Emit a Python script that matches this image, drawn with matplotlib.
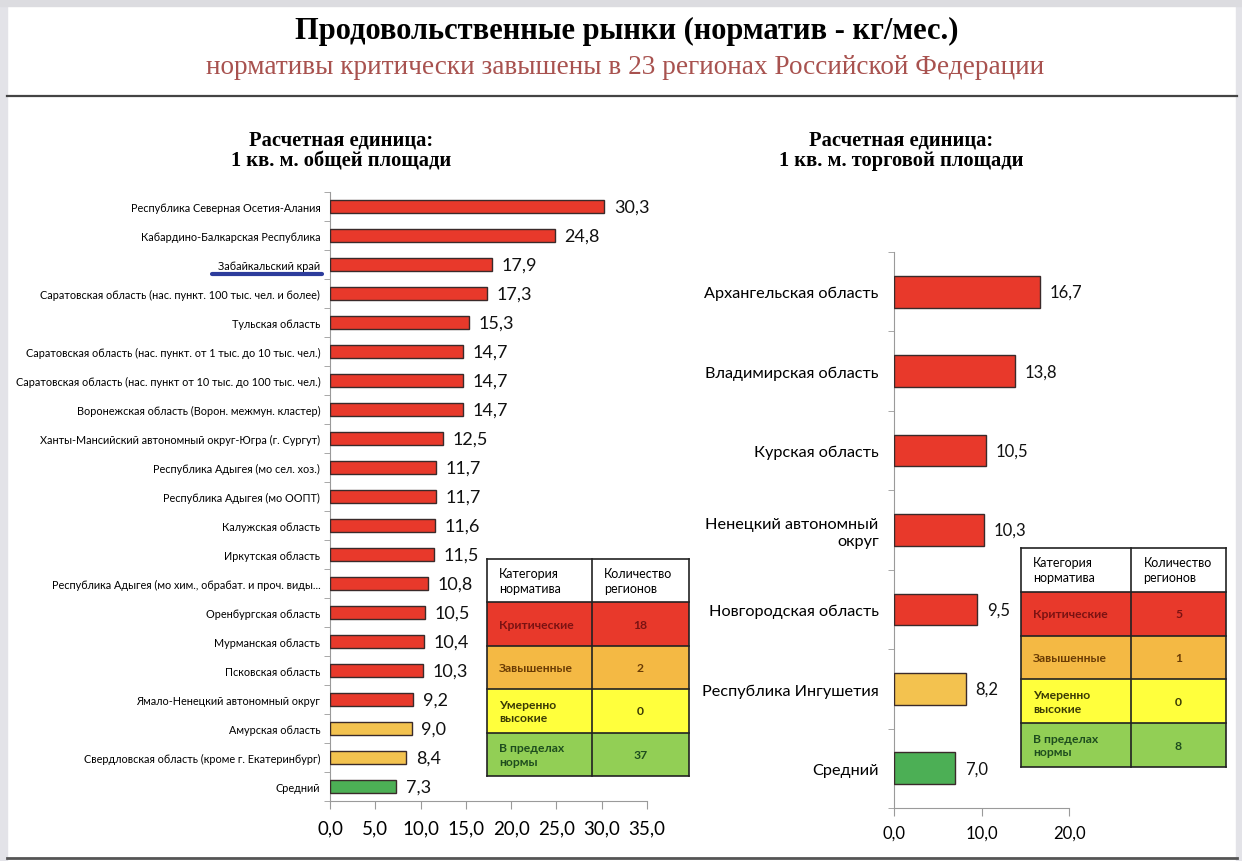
import matplotlib
matplotlib.use("Agg")
import matplotlib.pyplot as plt
from matplotlib.patches import Rectangle
from matplotlib.lines import Line2D

# --- data ---
left_regions = [
    "Республика Северная Осетия-Алания",
    "Кабардино-Балкарская Республика",
    "Забайкальский край",
    "Саратовская область (нас. пункт. 100 тыс. чел. и более)",
    "Тульская область",
    "Саратовская область (нас. пункт. от 1 тыс. до 10 тыс. чел.)",
    "Саратовская область (нас. пункт от 10 тыс. до 100 тыс. чел.)",
    "Воронежская область (Ворон. межмун. кластер)",
    "Ханты-Мансийский автономный округ-Югра (г. Сургут)",
    "Республика Адыгея (мо сел. хоз.)",
    "Республика Адыгея (мо ООПТ)",
    "Калужская область",
    "Иркутская область",
    "Республика Адыгея (мо хим., обрабат. и проч. виды...",
    "Оренбургская область",
    "Мурманская область",
    "Псковская область",
    "Ямало-Ненецкий автономный округ",
    "Амурская область",
    "Свердловская область (кроме г. Екатеринбург)",
    "Средний",
]
left_values = [30.3, 24.8, 17.9, 17.3, 15.3, 14.7, 14.7, 14.7, 12.5, 11.7, 11.7,
               11.6, 11.5, 10.8, 10.5, 10.4, 10.3, 9.2, 9.0, 8.4, 7.3]
left_cats = ["crit"] * 18 + ["high"] * 2 + ["avg"]

right_regions = [
    "Архангельская область",
    "Владимирская область",
    "Курская область",
    "Ненецкий автономный\nокруг",
    "Новгородская область",
    "Республика Ингушетия",
    "Средний",
]
right_values = [16.7, 13.8, 10.5, 10.3, 9.5, 8.2, 7.0]
right_cats = ["crit"] * 5 + ["high"] + ["avg"]

table_header = ["Категория\nнорматива", "Количество\nрегионов"]
table_cats = ["Критические", "Завышенные", "Умеренно\nвысокие", "В пределах\nнормы"]
left_counts = [18, 2, 0, 37]
right_counts = [5, 1, 0, 8]

bar_colors = {"crit": "#e8392b", "high": "#f3c24f", "avg": "#4caf55"}
cell_colors = ["#e8392b", "#f4b944", "#ffff3c", "#92cf55"]
cell_text_colors = ["#7a1212", "#6a3c05", "#3a3a05", "#1e4d1e"]

W, H = 1242, 862
fig = plt.figure(figsize=(W / 100, H / 100), dpi=100)
fig.patch.set_facecolor("white")

def fx(px):
    return px / W

def fy(py):
    return 1 - py / H

# page frame
fig.patches.append(Rectangle((0, 0), fx(7), 1, transform=fig.transFigure,
                             color="#e3e3e8", zorder=0))
fig.patches.append(Rectangle((fx(1236), 0), fx(6), 1, transform=fig.transFigure,
                             color="#e3e3e8", zorder=0))
fig.patches.append(Rectangle((0, fy(7)), 1, 7 / H, transform=fig.transFigure,
                             color="#dcdce0", zorder=0))
fig.lines.append(Line2D([fx(7), fx(1237)], [fy(97), fy(97)], transform=fig.transFigure,
                        color="#444444", lw=1.6))
fig.lines.append(Line2D([fx(7), fx(1237)], [fy(859), fy(859)], transform=fig.transFigure,
                        color="#555555", lw=2))

# titles
fig.text(fx(627), fy(31), "Продовольственные рынки (норматив - кг/мес.)",
         family="Liberation Serif", weight="bold", fontsize=22, ha="center", va="center")
fig.text(fx(625), fy(68), "нормативы критически завышены в 23 регионах Российской Федерации",
         family="Liberation Serif", fontsize=19.6, color="#a8524f", ha="center", va="center")
fig.text(fx(341), fy(151), "Расчетная единица:\n1 кв. м. общей площади",
         family="Liberation Serif", weight="bold", fontsize=14.8, ha="center", va="center",
         linespacing=1.05)
fig.text(fx(901), fy(151), "Расчетная единица:\n1 кв. м. торговой площади",
         family="Liberation Serif", weight="bold", fontsize=14.8, ha="center", va="center",
         linespacing=1.05)


def bar_panel(rect, regions, values, cats, xmax, xstep, label_fs, tick_fs, val_fs, bh,
              ypad, xpad):
    ax = fig.add_axes(rect)
    n = len(regions)
    y = list(range(n))
    ax.barh(y, values, height=bh, color=[bar_colors[c] for c in cats],
            edgecolor="#3a2a2a", linewidth=1.0, zorder=3)
    for yi, v in zip(y, values):
        ax.annotate(f"{v:.1f}".replace(".", ","), (v, yi), xytext=(7, 0),
                    textcoords="offset points", va="center", ha="left",
                    fontsize=val_fs, family="Lato", color="#111111")
    ax.set_ylim(n - 0.5, -0.5)
    ax.set_xlim(0, xmax)
    ticks = [i * xstep for i in range(int(round(xmax / xstep)) + 1)]
    ax.set_xticks(ticks)
    ax.set_xticklabels([f"{t:.1f}".replace(".", ",") for t in ticks],
                       fontsize=tick_fs, family="Lato")
    ax.set_yticks(y)
    ax.set_yticklabels(regions, fontsize=label_fs, family="Lato")
    ax.set_yticks([i - 0.5 for i in range(n + 1)], minor=True)
    ax.tick_params(axis="y", which="major", length=0, pad=ypad)
    ax.tick_params(axis="y", which="minor", length=4, color="#9a9a9a")
    ax.tick_params(axis="x", length=6, color="#9a9a9a", pad=xpad)
    for s in ["top", "right"]:
        ax.spines[s].set_visible(False)
    for s in ["left", "bottom"]:
        ax.spines[s].set_color("#9a9a9a")
    return ax


axL = bar_panel([fx(330), fy(802), fx(647) - fx(330), fy(193) - fy(802)],
                left_regions, left_values, left_cats, 35, 5, 7.8, 13.5, 13, 0.42, 7, 7)
axR = bar_panel([fx(894), fy(809), fx(1069) - fx(894), fy(253) - fy(809)],
                right_regions, right_values, right_cats, 20, 10, 11.7, 12, 12, 0.4, 11, 6)

# blue underline under Забайкальский край
fig.lines.append(Line2D([fx(212), fx(322)], [fy(275), fy(275)], transform=fig.transFigure,
                        color="#2d3c9c", lw=3, solid_capstyle="round"))


def table_panel(x0, y0, x1, y1, split, counts):
    ax = fig.add_axes([fx(x0), fy(y1), fx(x1) - fx(x0), fy(y0) - fy(y1)])
    ax.set_xlim(0, 1)
    ax.set_ylim(5, 0)
    ax.axis("off")
    ax.add_patch(Rectangle((0, 0), 1, 1, facecolor="white", edgecolor="none"))
    ax.text(0.06, 0.5, table_header[0], fontsize=9, family="Lato", va="center", ha="left",
            linespacing=1.3)
    ax.text(split + 0.06, 0.5, table_header[1], fontsize=9, family="Lato", va="center",
            ha="left", linespacing=1.3)
    for i, (cat, cnt) in enumerate(zip(table_cats, counts)):
        ax.add_patch(Rectangle((0, i + 1), 1, 1, facecolor=cell_colors[i], edgecolor="none"))
        ax.text(0.06, i + 1.5, cat, fontsize=8.7, family="Lato", weight="bold",
                color=cell_text_colors[i], va="center", ha="left", linespacing=1.3)
        ax.text(split + (1 - split) / 2, i + 1.5, str(cnt), fontsize=8.7, family="Lato",
                weight="bold", color=cell_text_colors[i], va="center", ha="center")
    for r in range(6):
        ax.plot([0, 1], [r, r], color="#222222", lw=1.2, clip_on=False)
    for c in [0, split, 1]:
        ax.plot([c, c], [0, 5], color="#222222", lw=1.2, clip_on=False)
    return ax


table_panel(487, 560, 689, 777, 0.52, left_counts)
table_panel(1021, 549, 1226, 768, 0.537, right_counts)

fig.savefig("out.png", dpi=100)
